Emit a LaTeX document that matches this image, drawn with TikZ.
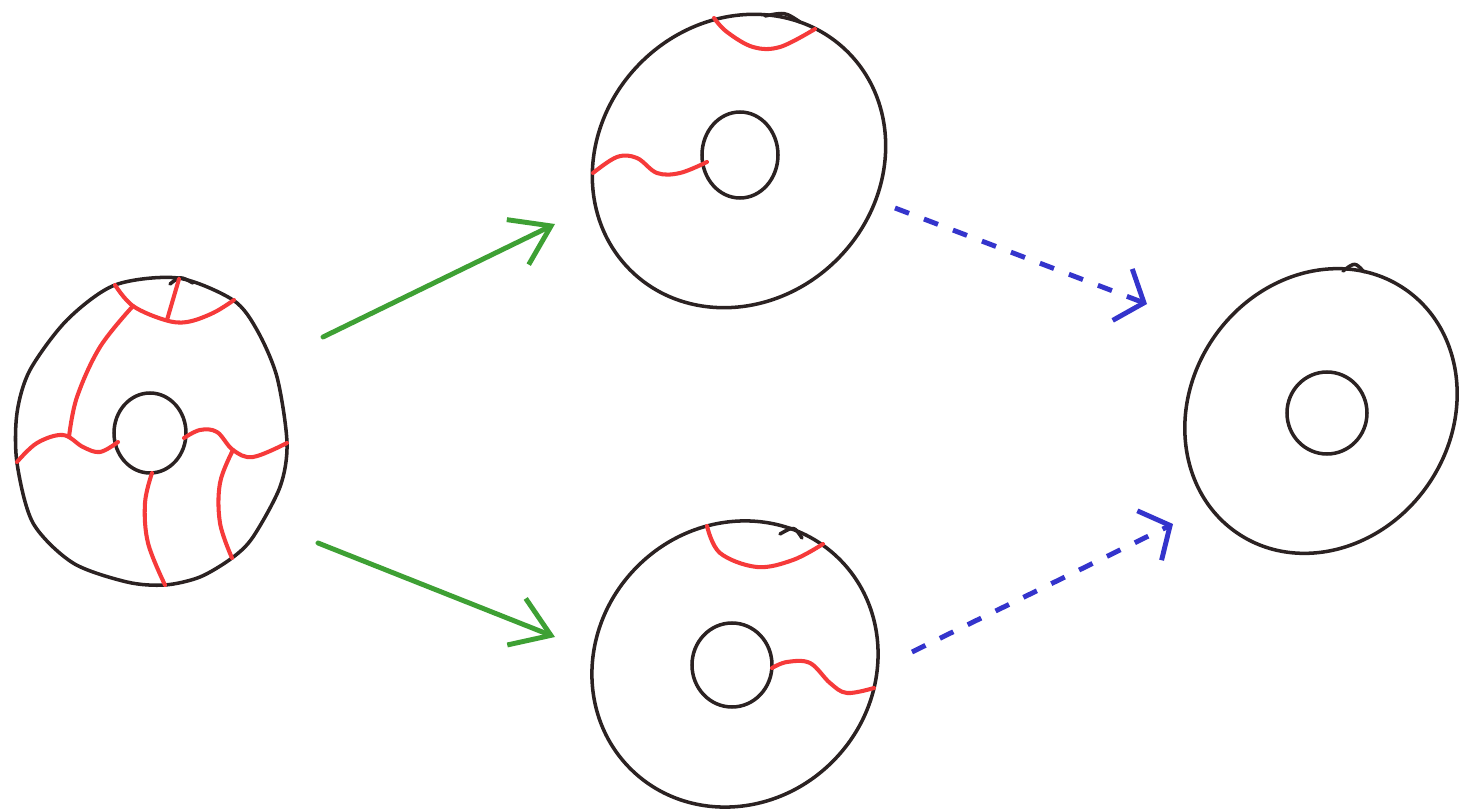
\documentclass[tikz,border=0pt]{standalone}
\usetikzlibrary{arrows.meta}
\definecolor{inkblack}{RGB}{43,34,34}
\definecolor{inkred}{RGB}{246,58,58}
\definecolor{inkgreen}{RGB}{62,160,52}
\definecolor{inkblue}{RGB}{52,52,204}

\begin{document}
\begin{tikzpicture}[x=0.01cm, y=-0.01cm,
    pen/.style={draw=inkblack, line width=1pt, line join=round, line cap=round},
    cut/.style={draw=inkred, line width=1.15pt, line join=round, line cap=round},
    greenarrow/.style={-{Straight Barb[length=3.7mm, width=5mm]}, draw=inkgreen, line width=1.4pt, line cap=round},
    bluearrow/.style={-{Straight Barb[length=2.3mm, width=5.5mm]}, draw=inkblue, line width=1.4pt, dash pattern=on 1.5mm off 1.6mm}
]
\useasboundingbox[fill=white] (0,0) rectangle (1459,812);

% left annulus, cut into pieces
\draw[pen] plot[smooth cycle] coordinates {(178,278) (233,300) (257,330) (277,377) (287,443) (280,487) (253,537) (232,558) (200,577) (165,585) (127,582) (73,563) (33,523) (17,463) (17,413) (30,370) (67,320) (115,285)};
\draw[pen] (150,433) ellipse (36 and 40);
\draw[pen] (170,284) .. controls (180,276) .. (193,283);
\draw[cut] plot[smooth, tension=0.6] coordinates {(115,285) (133,306) (165,320) (187,322) (213,313) (234,300)};
\draw[cut] (179,279) -- (167,320);
\draw[cut] plot[smooth, tension=0.6] coordinates {(133,306) (100,347) (77,397) (69,437)};
\draw[cut] plot[smooth, tension=0.6] coordinates {(17,462) (37,443) (63,435) (83,447) (100,452) (118,442)};
\draw[cut] plot[smooth, tension=0.6] coordinates {(184,438) (200,430) (217,432) (233,450) (253,457) (287,443)};
\draw[cut] plot[smooth, tension=0.6] coordinates {(233,450) (220,483) (220,523) (232,558)};
\draw[cut] plot[smooth, tension=0.6] coordinates {(152,473) (145,503) (148,543) (165,585)};

% upper middle annulus
\draw[pen, rotate around={45:(739,161)}] (739,161) ellipse (154 and 139);
\draw[pen] (740,155) ellipse (38 and 43);
\draw[pen] (765,16) .. controls (785,12) .. (800,22);
\draw[cut] plot[smooth, tension=0.6] coordinates {(714,18) (727,32) (753,47) (780,47) (815,29)};
\draw[cut] plot[smooth, tension=0.6] coordinates {(593,173) (617,157) (637,158) (657,173) (680,173) (707,162)};

% lower middle annulus
\draw[pen, rotate around={45:(735,664)}] (735,664) ellipse (148 and 138);
\draw[pen] (732,665) ellipse (40 and 42);
\draw[pen] (780,534) .. controls (794,526) .. (802,538);
\draw[cut] plot[smooth, tension=0.6] coordinates {(707,526) (720,553) (757,567) (793,560) (823,544)};
\draw[cut] plot[smooth, tension=0.6] coordinates {(772,668) (787,662) (810,663) (830,683) (847,693) (874,688)};

% right annulus, no cuts
\draw[pen, rotate around={55:(1321,411)}] (1321,411) ellipse (148 and 130);
\draw[pen] (1327,413) ellipse (40 and 41);
\draw[pen] (1343,271) .. controls (1355,262) .. (1364,272);

% arrows
\coordinate (cutstart1) at (323,337);
\coordinate (cutend1) at (555,224);
\coordinate (cutstart2) at (318,543);
\coordinate (cutend2) at (555,637);
\coordinate (gluestart1) at (895,208);
\coordinate (glueend1) at (1147,304);
\coordinate (gluestart2) at (912,652);
\coordinate (glueend2) at (1173,524);
\draw[greenarrow] (cutstart1) -- (cutend1);
\draw[greenarrow] (cutstart2) -- (cutend2);
\draw[bluearrow] (gluestart1) -- (glueend1);
\draw[bluearrow] (gluestart2) -- (glueend2);
\end{tikzpicture}
\end{document}
